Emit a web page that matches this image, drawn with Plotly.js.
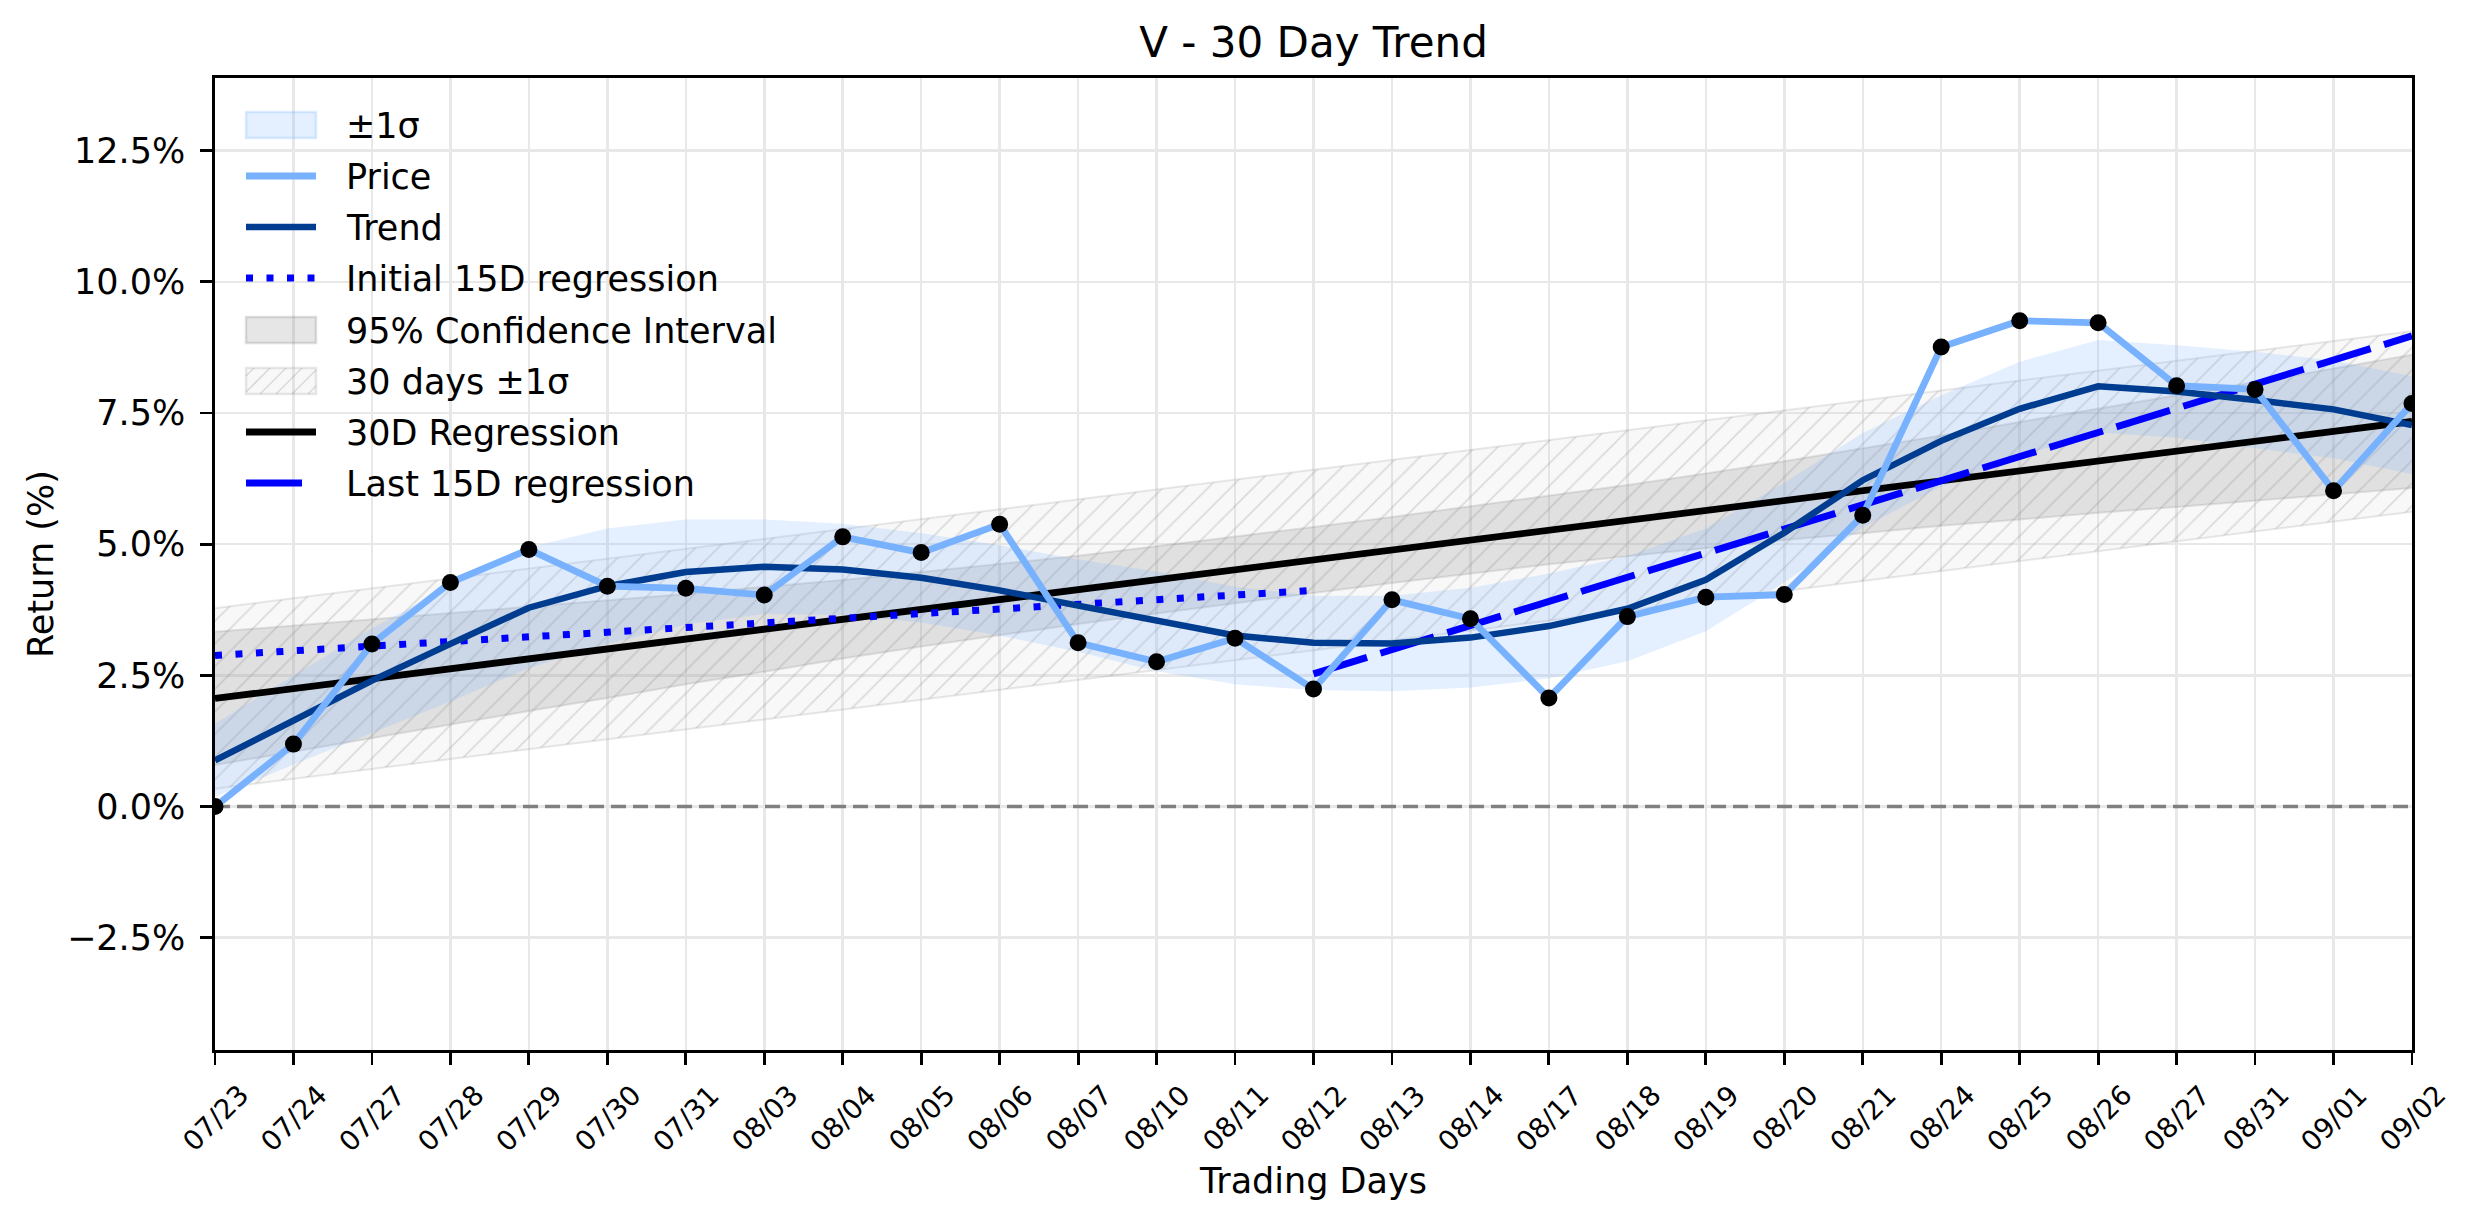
<!DOCTYPE html>
<html>
<head>
<meta charset="utf-8">
<script src="https://cdn.plot.ly/plotly-3.0.1.min.js"></script>
<style>html,body{margin:0;padding:0;background:#fff;}#chart{width:2474px;height:1224px;}</style>
</head>
<body>
<div id="chart"></div>
<script>
// ---- data ----
const days = ['07/23','07/24','07/27','07/28','07/29','07/30','07/31','08/03','08/04','08/05','08/06','08/07','08/10','08/11','08/12','08/13','08/14','08/17','08/18','08/19','08/20','08/21','08/24','08/25','08/26','08/27','08/31','09/01','09/02'];
const price = [0.00,1.19,3.10,4.27,4.90,4.20,4.16,4.03,5.14,4.84,5.38,3.12,2.76,3.21,2.24,3.94,3.58,2.07,3.62,3.99,4.04,5.55,8.76,9.26,9.22,8.02,7.95,6.02,7.68];
const trend = [0.88,1.65,2.40,3.10,3.79,4.20,4.47,4.57,4.52,4.36,4.12,3.83,3.53,3.26,3.12,3.11,3.22,3.44,3.77,4.32,5.22,6.22,6.97,7.58,8.01,7.91,7.75,7.57,7.27];
const trendSigma = [0.70,0.85,1.00,1.10,1.15,1.10,1.00,0.90,0.87,0.85,0.86,0.88,0.95,0.93,0.90,0.91,0.95,1.00,1.00,0.98,0.95,0.90,0.87,0.90,0.88,0.88,0.92,0.93,0.93];
const ciUpper = [3.33,3.45,3.57,3.69,3.80,3.93,4.05,4.19,4.32,4.47,4.63,4.78,4.96,5.14,5.33,5.52,5.72,5.92,6.13,6.35,6.58,6.83,7.07,7.33,7.58,7.83,8.09,8.35,8.61];
const ciLower = [0.79,1.05,1.31,1.57,1.82,2.07,2.33,2.57,2.82,3.05,3.27,3.48,3.68,3.88,4.07,4.26,4.44,4.62,4.77,4.93,5.08,5.21,5.35,5.47,5.60,5.71,5.83,5.95,6.07];
const reg30X = [0, 28];
const reg30Y = [2.06, 7.34];
const band30Upper = [3.78, 9.06];
const band30Lower = [0.34, 5.62];
const init15X = [0, 14];
const init15Y = [2.88, 4.12];
const last15X = [14, 28];
const last15Y = [2.53, 8.97];
const yTicks = [-2.5, 0, 2.5, 5, 7.5, 10, 12.5];
const yTickText = ['\u22122.5%','0.0%','2.5%','5.0%','7.5%','10.0%','12.5%'];
const legendLabels = ['\u00b11\u03c3','Price','Trend','Initial 15D regression','95% Confidence Interval','30 days \u00b11\u03c3','30D Regression','Last 15D regression'];

// ---- styles ----
const font = 'DejaVu Sans, Verdana, sans-serif';
const C = {
  sigmaFill: 'rgba(120,180,255,0.2)', sigmaEdge: 'rgba(120,180,255,0.25)',
  price: '#78b2ff', trend: '#003c8f',
  ciFill: 'rgba(128,128,128,0.2)', ciEdge: 'rgba(128,128,128,0.2)',
  hatchBg: 'rgba(200,200,200,0.12)', hatchFg: 'rgba(140,140,140,0.28)', hatchEdge: 'rgba(150,150,150,0.22)',
  reg: '#000000', blue: '#0000ff', zero: '#808080'
};
const DOT = '7px,13.5px', DASH = '56px,14px';

// ---- build ----
const idx = days.map((d, i) => i);
const sigUp = trend.map((v, i) => v + trendSigma[i]);
const sigLo = trend.map((v, i) => v - trendSigma[i]);

const traces = [
  {x: reg30X, y: band30Lower, mode: 'lines', line: {width: 2, color: C.hatchEdge}, hoverinfo: 'skip'},
  {x: reg30X, y: band30Upper, mode: 'lines', line: {width: 2, color: C.hatchEdge}, fill: 'tonexty',
   fillcolor: C.hatchBg,
   fillpattern: {shape: '/', size: 16, solidity: 0.1, fgcolor: C.hatchFg, bgcolor: C.hatchBg, fillmode: 'replace'},
   name: legendLabels[5]},
  {x: idx, y: ciLower, mode: 'lines', line: {width: 2, color: C.ciEdge}, hoverinfo: 'skip'},
  {x: idx, y: ciUpper, mode: 'lines', line: {width: 2, color: C.ciEdge}, fill: 'tonexty', fillcolor: C.ciFill, name: legendLabels[4]},
  {x: idx, y: sigLo, mode: 'lines', line: {width: 0, color: 'rgba(0,0,0,0)'}, hoverinfo: 'skip'},
  {x: idx, y: sigUp, mode: 'lines', line: {width: 0, color: 'rgba(0,0,0,0)'}, fill: 'tonexty', fillcolor: C.sigmaFill, name: legendLabels[0]},
  {x: reg30X, y: [0, 0], mode: 'lines', line: {width: 3.5, color: C.zero, dash: '15px,7px'}, hoverinfo: 'skip'},
  {x: reg30X, y: reg30Y, mode: 'lines', line: {width: 6.8, color: C.reg}, name: legendLabels[6]},
  {x: init15X, y: init15Y, mode: 'lines', line: {width: 7, color: C.blue, dash: DOT}, name: legendLabels[3]},
  {x: last15X, y: last15Y, mode: 'lines', line: {width: 7, color: C.blue, dash: DASH}, name: legendLabels[7]},
  {x: idx, y: trend, mode: 'lines', line: {width: 6.5, color: C.trend}, name: legendLabels[2]},
  {x: idx, y: price, mode: 'lines', line: {width: 6.8, color: C.price}, name: legendLabels[1]},
  {x: idx, y: price, mode: 'markers', marker: {size: 17, color: '#000000'}, name: 'Price points'}
];
traces.forEach(t => t.showlegend = false);

// plot area in pixels
const W = 2474, H = 1224, M = {l: 215, r: 62, t: 78, b: 174};
const PW = W - M.l - M.r, PH = H - M.t - M.b;
const px = p => (p - M.l) / PW;
const py = p => 1 - (p - M.t) / PH;

// x tick labels (rotated, centred under each tick)
const annotations = days.map((d, i) => ({
  x: i, xref: 'x', y: 0, yref: 'paper', yshift: -26,
  xanchor: 'center', yanchor: 'top', textangle: -45, showarrow: false,
  text: d, font: {family: font, size: 27.5, color: '#000'}
}));

// legend (drawn in the matplotlib style: long handles, patches)
const hx0 = 246, hx1 = 316, tx = 344;
const rowY = [125, 176, 227, 278, 330, 381, 432, 483];
const shapes = [];
const patch = (yc, fill, edge) => shapes.push({type: 'rect', xref: 'paper', yref: 'paper',
  x0: px(hx0), x1: px(hx1), y0: py(yc + 13), y1: py(yc - 13), fillcolor: fill, line: {color: edge, width: 2.5}, layer: 'above'});
const hline = (yc, color, width, dash) => shapes.push({type: 'line', xref: 'paper', yref: 'paper',
  x0: px(hx0), x1: px(hx1), y0: py(yc), y1: py(yc), line: {color: color, width: width, dash: dash || 'solid'}, layer: 'above'});
patch(rowY[0], C.sigmaFill, C.sigmaEdge);
hline(rowY[1], C.price, 6.8);
hline(rowY[2], C.trend, 6.5);
hline(rowY[3], C.blue, 7, DOT);
patch(rowY[4], C.ciFill, 'rgba(128,128,128,0.25)');
patch(rowY[5], C.hatchBg, C.hatchEdge);
// hatch strokes inside the legend patch
(function () {
  const top = rowY[5] - 13, bot = rowY[5] + 13, h = bot - top;
  for (let s = hx0 - h + 8; s < hx1; s += 16) {
    let xa = s, ya = bot, xb = s + h, yb = top;
    if (xa < hx0) { ya = bot - (hx0 - xa); xa = hx0; }
    if (xb > hx1) { yb = top + (xb - hx1); xb = hx1; }
    if (xb <= xa) continue;
    shapes.push({type: 'line', xref: 'paper', yref: 'paper', x0: px(xa), y0: py(ya), x1: px(xb), y1: py(yb),
      line: {color: C.hatchFg, width: 1.6}, layer: 'above'});
  }
})();
hline(rowY[6], C.reg, 6.8);
hline(rowY[7], C.blue, 7, DASH);
legendLabels.forEach((lab, i) => annotations.push({
  x: px(tx), y: py(rowY[i] + 1), xref: 'paper', yref: 'paper', xanchor: 'left', yanchor: 'middle',
  showarrow: false, text: lab, font: {family: font, size: 35, color: '#000'}
}));

const axisCommon = {
  showline: true, linecolor: '#000', linewidth: 2.8, mirror: true,
  ticks: 'outside', ticklen: 12, tickwidth: 2.8, tickcolor: '#000',
  showgrid: true, gridcolor: '#e8e8e8', gridwidth: 2.5, zeroline: false
};

const layout = {
  width: W, height: H,
  margin: {l: M.l, r: M.r, t: M.t, b: M.b, pad: 0},
  paper_bgcolor: '#fff', plot_bgcolor: '#fff',
  font: {family: font, size: 35, color: '#000'},
  title: {text: 'V - 30 Day Trend', font: {family: font, size: 42, color: '#000'}, x: 0.5, xref: 'paper', xanchor: 'center', y: 0.9655, yref: 'container', yanchor: 'middle'},
  xaxis: Object.assign({}, axisCommon, {
    range: [0, 28], tickmode: 'array', tickvals: idx, showticklabels: false,
    title: {text: 'Trading Days', font: {family: font, size: 35}, standoff: 105}
  }),
  yaxis: Object.assign({}, axisCommon, {
    range: [-4.64, 13.886], tickmode: 'array', tickvals: yTicks, ticktext: yTickText,
    tickfont: {family: font, size: 35}, ticklabelstandoff: 8,
    title: {text: 'Return (%)', font: {family: font, size: 35}, standoff: 3}
  }),
  annotations: annotations,
  shapes: shapes,
  showlegend: false
};

Plotly.newPlot('chart', traces, layout, {displayModeBar: false, staticPlot: true});
</script>
</body>
</html>
